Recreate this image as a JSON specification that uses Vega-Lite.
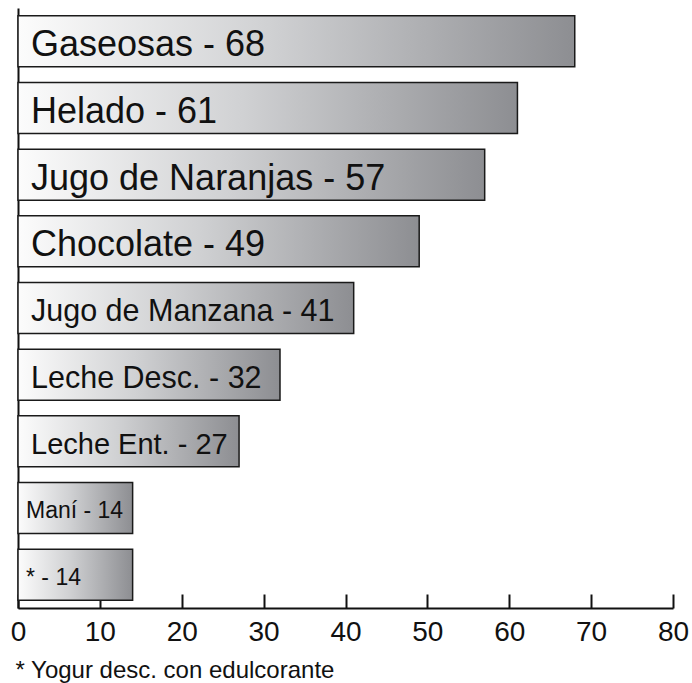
{
  "$schema": "https://vega.github.io/schema/vega-lite/v6.json",
  "width": 655,
  "height": 600,
  "autosize": {"type": "none"},
  "padding": {"left": 18, "top": 8, "right": 19, "bottom": 75},
  "background": "white",
  "config": {
    "view": {"stroke": null},
    "font": "Liberation Sans",
    "axis": {"grid": false, "domainColor": "#111", "domainWidth": 2, "tickColor": "#111", "tickWidth": 2, "labelColor": "#111", "titleColor": "#111"}
  },
  "data": {
    "values": [
      {"name": "Gaseosas", "value": 68, "label": "Gaseosas - 68"},
      {"name": "Helado", "value": 61, "label": "Helado - 61"},
      {"name": "Jugo de Naranjas", "value": 57, "label": "Jugo de Naranjas - 57"},
      {"name": "Chocolate", "value": 49, "label": "Chocolate - 49"},
      {"name": "Jugo de Manzana", "value": 41, "label": "Jugo de Manzana - 41"},
      {"name": "Leche Desc.", "value": 32, "label": "Leche Desc. - 32"},
      {"name": "Leche Ent.", "value": 27, "label": "Leche Ent. - 27"},
      {"name": "Maní", "value": 14, "label": "Maní - 14"},
      {"name": "*", "value": 14, "label": "* - 14"}
    ]
  },
  "encoding": {
    "y": {
      "field": "name", "type": "nominal", "sort": null,
      "scale": {"paddingInner": 0.234, "paddingOuter": 0.117},
      "axis": {"labels": false, "ticks": false, "title": null, "domain": true}
    }
  },
  "layer": [
    {
      "mark": {
        "type": "bar",
        "stroke": "#1a1a1a",
        "strokeWidth": 1.5,
        "color": {
          "gradient": "linear", "x1": 0, "y1": 0, "x2": 1, "y2": 0,
          "stops": [
            {"offset": 0, "color": "#fcfcfc"},
            {"offset": 0.45, "color": "#d0d1d3"},
            {"offset": 1, "color": "#8d8e92"}
          ]
        }
      },
      "encoding": {
        "x": {
          "field": "value", "type": "quantitative",
          "scale": {"domain": [0, 80], "nice": false},
          "axis": {
            "values": [0, 10, 20, 30, 40, 50, 60, 70, 80],
            "tickSize": -14,
            "labelFontSize": 28,
            "labelPadding": 24,
            "labelFlush": false,
            "title": "* Yogur desc. con edulcorante",
            "titleFontSize": 24,
            "titleFontWeight": "normal",
            "titleAnchor": "start",
            "titleAlign": "left",
            "titleX": -3,
            "titlePadding": 12
          }
        }
      }
    },
    {
      "transform": [{"filter": "datum.value >= 49"}],
      "mark": {"type": "text", "align": "left", "baseline": "middle", "dx": 13, "dy": 4, "fontSize": 36, "color": "#111"},
      "encoding": {"x": {"datum": 0, "type": "quantitative"}, "text": {"field": "label"}}
    },
    {
      "transform": [{"filter": "datum.value >= 32 && datum.value < 49"}],
      "mark": {"type": "text", "align": "left", "baseline": "middle", "dx": 13, "dy": 4, "fontSize": 30.5, "color": "#111"},
      "encoding": {"x": {"datum": 0, "type": "quantitative"}, "text": {"field": "label"}}
    },
    {
      "transform": [{"filter": "datum.value == 27"}],
      "mark": {"type": "text", "align": "left", "baseline": "middle", "dx": 13, "dy": 4, "fontSize": 29, "color": "#111"},
      "encoding": {"x": {"datum": 0, "type": "quantitative"}, "text": {"field": "label"}}
    },
    {
      "transform": [{"filter": "datum.value < 27"}],
      "mark": {"type": "text", "align": "left", "baseline": "middle", "dx": 8, "dy": 3, "fontSize": 23, "color": "#111"},
      "encoding": {"x": {"datum": 0, "type": "quantitative"}, "text": {"field": "label"}}
    }
  ]
}
